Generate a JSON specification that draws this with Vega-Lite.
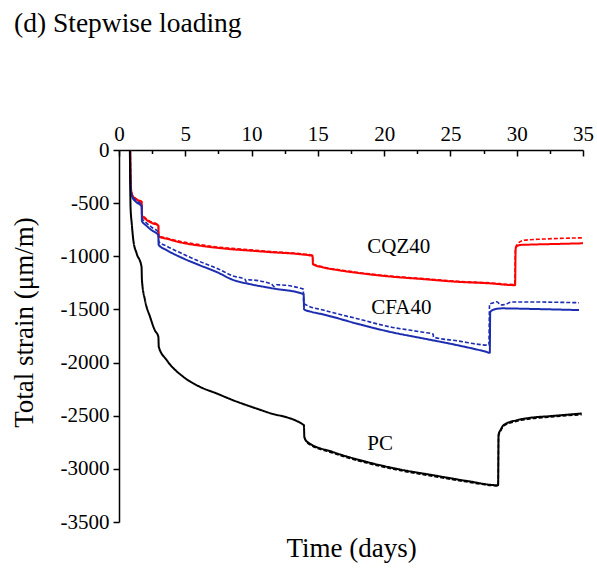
{
  "$schema": "https://vega.github.io/schema/vega-lite/v6.json",
  "autosize": "none",
  "width": 464,
  "height": 372,
  "padding": {"left": 119, "top": 150, "right": 14, "bottom": 48},
  "background": "white",
  "config": {
    "view": {"stroke": null},
    "font": "Liberation Serif",
    "axis": {"grid": false, "domainColor": "black", "tickColor": "black", "labelColor": "black", "titleColor": "black", "labelFont": "Liberation Serif", "titleFont": "Liberation Serif", "labelFontSize": 21, "titleFontSize": 27, "titleFontWeight": "normal", "domainWidth": 1.5, "tickWidth": 1.5}
  },
  "title": {"text": "(d) Stepwise loading", "anchor": "start", "frame": "group", "dx": -105, "fontSize": 27.5, "font": "Liberation Serif", "fontWeight": "normal", "color": "black", "offset": 83},
  "datasets": {
    "curves": [
      {"t": 0.85, "strain": 0, "mix": "CQZ40", "kind": "solid"},
      {"t": 0.88, "strain": -250, "mix": "CQZ40", "kind": "solid"},
      {"t": 0.92, "strain": -380, "mix": "CQZ40", "kind": "solid"},
      {"t": 1.0, "strain": -425, "mix": "CQZ40", "kind": "solid"},
      {"t": 1.2, "strain": -455, "mix": "CQZ40", "kind": "solid"},
      {"t": 1.5, "strain": -477, "mix": "CQZ40", "kind": "solid"},
      {"t": 1.71, "strain": -490, "mix": "CQZ40", "kind": "solid"},
      {"t": 1.73, "strain": -612, "mix": "CQZ40", "kind": "solid"},
      {"t": 2.0, "strain": -650, "mix": "CQZ40", "kind": "solid"},
      {"t": 2.5, "strain": -688, "mix": "CQZ40", "kind": "solid"},
      {"t": 2.97, "strain": -710, "mix": "CQZ40", "kind": "solid"},
      {"t": 2.99, "strain": -814, "mix": "CQZ40", "kind": "solid"},
      {"t": 3.6, "strain": -835, "mix": "CQZ40", "kind": "solid"},
      {"t": 4.85, "strain": -875, "mix": "CQZ40", "kind": "solid"},
      {"t": 6.1, "strain": -900, "mix": "CQZ40", "kind": "solid"},
      {"t": 7.37, "strain": -920, "mix": "CQZ40", "kind": "solid"},
      {"t": 8.5, "strain": -934, "mix": "CQZ40", "kind": "solid"},
      {"t": 9.9, "strain": -947, "mix": "CQZ40", "kind": "solid"},
      {"t": 11.5, "strain": -962, "mix": "CQZ40", "kind": "solid"},
      {"t": 13.6, "strain": -980, "mix": "CQZ40", "kind": "solid"},
      {"t": 14.6, "strain": -998, "mix": "CQZ40", "kind": "solid"},
      {"t": 14.63, "strain": -1075, "mix": "CQZ40", "kind": "solid"},
      {"t": 15.4, "strain": -1105, "mix": "CQZ40", "kind": "solid"},
      {"t": 16.5, "strain": -1130, "mix": "CQZ40", "kind": "solid"},
      {"t": 17.9, "strain": -1155, "mix": "CQZ40", "kind": "solid"},
      {"t": 20.4, "strain": -1190, "mix": "CQZ40", "kind": "solid"},
      {"t": 22.95, "strain": -1215, "mix": "CQZ40", "kind": "solid"},
      {"t": 25.5, "strain": -1240, "mix": "CQZ40", "kind": "solid"},
      {"t": 28.0, "strain": -1255, "mix": "CQZ40", "kind": "solid"},
      {"t": 29.88, "strain": -1272, "mix": "CQZ40", "kind": "solid"},
      {"t": 29.92, "strain": -930, "mix": "CQZ40", "kind": "solid"},
      {"t": 30.0, "strain": -905, "mix": "CQZ40", "kind": "solid"},
      {"t": 30.3, "strain": -893, "mix": "CQZ40", "kind": "solid"},
      {"t": 31.0, "strain": -890, "mix": "CQZ40", "kind": "solid"},
      {"t": 33.0, "strain": -884, "mix": "CQZ40", "kind": "solid"},
      {"t": 35.0, "strain": -878, "mix": "CQZ40", "kind": "solid"},

      {"t": 0.85, "strain": 0, "mix": "CQZ40", "kind": "dashed"},
      {"t": 0.88, "strain": -250, "mix": "CQZ40", "kind": "dashed"},
      {"t": 0.92, "strain": -375, "mix": "CQZ40", "kind": "dashed"},
      {"t": 1.0, "strain": -418, "mix": "CQZ40", "kind": "dashed"},
      {"t": 1.2, "strain": -450, "mix": "CQZ40", "kind": "dashed"},
      {"t": 1.5, "strain": -472, "mix": "CQZ40", "kind": "dashed"},
      {"t": 1.71, "strain": -485, "mix": "CQZ40", "kind": "dashed"},
      {"t": 1.73, "strain": -605, "mix": "CQZ40", "kind": "dashed"},
      {"t": 2.0, "strain": -640, "mix": "CQZ40", "kind": "dashed"},
      {"t": 2.5, "strain": -680, "mix": "CQZ40", "kind": "dashed"},
      {"t": 2.97, "strain": -703, "mix": "CQZ40", "kind": "dashed"},
      {"t": 2.99, "strain": -805, "mix": "CQZ40", "kind": "dashed"},
      {"t": 3.6, "strain": -828, "mix": "CQZ40", "kind": "dashed"},
      {"t": 4.85, "strain": -866, "mix": "CQZ40", "kind": "dashed"},
      {"t": 6.1, "strain": -890, "mix": "CQZ40", "kind": "dashed"},
      {"t": 7.37, "strain": -912, "mix": "CQZ40", "kind": "dashed"},
      {"t": 8.5, "strain": -925, "mix": "CQZ40", "kind": "dashed"},
      {"t": 9.9, "strain": -940, "mix": "CQZ40", "kind": "dashed"},
      {"t": 11.5, "strain": -956, "mix": "CQZ40", "kind": "dashed"},
      {"t": 13.6, "strain": -975, "mix": "CQZ40", "kind": "dashed"},
      {"t": 14.6, "strain": -990, "mix": "CQZ40", "kind": "dashed"},
      {"t": 14.63, "strain": -1068, "mix": "CQZ40", "kind": "dashed"},
      {"t": 15.4, "strain": -1100, "mix": "CQZ40", "kind": "dashed"},
      {"t": 16.5, "strain": -1125, "mix": "CQZ40", "kind": "dashed"},
      {"t": 17.9, "strain": -1150, "mix": "CQZ40", "kind": "dashed"},
      {"t": 20.4, "strain": -1185, "mix": "CQZ40", "kind": "dashed"},
      {"t": 22.95, "strain": -1210, "mix": "CQZ40", "kind": "dashed"},
      {"t": 25.5, "strain": -1235, "mix": "CQZ40", "kind": "dashed"},
      {"t": 28.0, "strain": -1250, "mix": "CQZ40", "kind": "dashed"},
      {"t": 29.86, "strain": -1266, "mix": "CQZ40", "kind": "dashed"},
      {"t": 29.9, "strain": -925, "mix": "CQZ40", "kind": "dashed"},
      {"t": 30.1, "strain": -880, "mix": "CQZ40", "kind": "dashed"},
      {"t": 30.5, "strain": -850, "mix": "CQZ40", "kind": "dashed"},
      {"t": 32.0, "strain": -838, "mix": "CQZ40", "kind": "dashed"},
      {"t": 35.0, "strain": -826, "mix": "CQZ40", "kind": "dashed"},

      {"t": 0.84, "strain": 0, "mix": "CFA40", "kind": "solid"},
      {"t": 0.86, "strain": -250, "mix": "CFA40", "kind": "solid"},
      {"t": 0.9, "strain": -395, "mix": "CFA40", "kind": "solid"},
      {"t": 1.0, "strain": -440, "mix": "CFA40", "kind": "solid"},
      {"t": 1.3, "strain": -490, "mix": "CFA40", "kind": "solid"},
      {"t": 1.71, "strain": -530, "mix": "CFA40", "kind": "solid"},
      {"t": 1.73, "strain": -668, "mix": "CFA40", "kind": "solid"},
      {"t": 2.0, "strain": -705, "mix": "CFA40", "kind": "solid"},
      {"t": 2.5, "strain": -758, "mix": "CFA40", "kind": "solid"},
      {"t": 2.97, "strain": -800, "mix": "CFA40", "kind": "solid"},
      {"t": 2.99, "strain": -892, "mix": "CFA40", "kind": "solid"},
      {"t": 3.6, "strain": -942, "mix": "CFA40", "kind": "solid"},
      {"t": 4.85, "strain": -1020, "mix": "CFA40", "kind": "solid"},
      {"t": 6.1, "strain": -1085, "mix": "CFA40", "kind": "solid"},
      {"t": 7.37, "strain": -1148, "mix": "CFA40", "kind": "solid"},
      {"t": 8.6, "strain": -1222, "mix": "CFA40", "kind": "solid"},
      {"t": 10.0, "strain": -1265, "mix": "CFA40", "kind": "solid"},
      {"t": 11.5, "strain": -1300, "mix": "CFA40", "kind": "solid"},
      {"t": 13.93, "strain": -1356, "mix": "CFA40", "kind": "solid"},
      {"t": 13.96, "strain": -1500, "mix": "CFA40", "kind": "solid"},
      {"t": 14.5, "strain": -1522, "mix": "CFA40", "kind": "solid"},
      {"t": 15.4, "strain": -1547, "mix": "CFA40", "kind": "solid"},
      {"t": 17.9, "strain": -1632, "mix": "CFA40", "kind": "solid"},
      {"t": 20.4, "strain": -1710, "mix": "CFA40", "kind": "solid"},
      {"t": 22.95, "strain": -1773, "mix": "CFA40", "kind": "solid"},
      {"t": 25.5, "strain": -1836, "mix": "CFA40", "kind": "solid"},
      {"t": 27.7, "strain": -1899, "mix": "CFA40", "kind": "solid"},
      {"t": 27.97, "strain": -1908, "mix": "CFA40", "kind": "solid"},
      {"t": 28.0, "strain": -1525, "mix": "CFA40", "kind": "solid"},
      {"t": 28.3, "strain": -1500, "mix": "CFA40", "kind": "solid"},
      {"t": 28.9, "strain": -1490, "mix": "CFA40", "kind": "solid"},
      {"t": 31.0, "strain": -1495, "mix": "CFA40", "kind": "solid"},
      {"t": 34.7, "strain": -1506, "mix": "CFA40", "kind": "solid"},

      {"t": 0.84, "strain": 0, "mix": "CFA40", "kind": "dashed"},
      {"t": 0.86, "strain": -250, "mix": "CFA40", "kind": "dashed"},
      {"t": 0.9, "strain": -385, "mix": "CFA40", "kind": "dashed"},
      {"t": 1.0, "strain": -428, "mix": "CFA40", "kind": "dashed"},
      {"t": 1.3, "strain": -478, "mix": "CFA40", "kind": "dashed"},
      {"t": 1.71, "strain": -512, "mix": "CFA40", "kind": "dashed"},
      {"t": 1.73, "strain": -640, "mix": "CFA40", "kind": "dashed"},
      {"t": 2.0, "strain": -678, "mix": "CFA40", "kind": "dashed"},
      {"t": 2.5, "strain": -730, "mix": "CFA40", "kind": "dashed"},
      {"t": 2.97, "strain": -772, "mix": "CFA40", "kind": "dashed"},
      {"t": 2.99, "strain": -862, "mix": "CFA40", "kind": "dashed"},
      {"t": 3.6, "strain": -905, "mix": "CFA40", "kind": "dashed"},
      {"t": 4.85, "strain": -980, "mix": "CFA40", "kind": "dashed"},
      {"t": 6.1, "strain": -1050, "mix": "CFA40", "kind": "dashed"},
      {"t": 7.37, "strain": -1112, "mix": "CFA40", "kind": "dashed"},
      {"t": 8.6, "strain": -1185, "mix": "CFA40", "kind": "dashed"},
      {"t": 9.5, "strain": -1215, "mix": "CFA40", "kind": "dashed"},
      {"t": 9.6, "strain": -1240, "mix": "CFA40", "kind": "dashed"},
      {"t": 9.8, "strain": -1222, "mix": "CFA40", "kind": "dashed"},
      {"t": 11.5, "strain": -1262, "mix": "CFA40", "kind": "dashed"},
      {"t": 11.7, "strain": -1285, "mix": "CFA40", "kind": "dashed"},
      {"t": 11.9, "strain": -1268, "mix": "CFA40", "kind": "dashed"},
      {"t": 13.9, "strain": -1309, "mix": "CFA40", "kind": "dashed"},
      {"t": 13.93, "strain": -1440, "mix": "CFA40", "kind": "dashed"},
      {"t": 14.15, "strain": -1459, "mix": "CFA40", "kind": "dashed"},
      {"t": 15.4, "strain": -1506, "mix": "CFA40", "kind": "dashed"},
      {"t": 17.9, "strain": -1585, "mix": "CFA40", "kind": "dashed"},
      {"t": 20.4, "strain": -1663, "mix": "CFA40", "kind": "dashed"},
      {"t": 22.95, "strain": -1715, "mix": "CFA40", "kind": "dashed"},
      {"t": 23.7, "strain": -1732, "mix": "CFA40", "kind": "dashed"},
      {"t": 23.72, "strain": -1760, "mix": "CFA40", "kind": "dashed"},
      {"t": 25.5, "strain": -1795, "mix": "CFA40", "kind": "dashed"},
      {"t": 27.9, "strain": -1836, "mix": "CFA40", "kind": "dashed"},
      {"t": 27.95, "strain": -1450, "mix": "CFA40", "kind": "dashed"},
      {"t": 28.2, "strain": -1440, "mix": "CFA40", "kind": "dashed"},
      {"t": 28.5, "strain": -1428, "mix": "CFA40", "kind": "dashed"},
      {"t": 28.8, "strain": -1458, "mix": "CFA40", "kind": "dashed"},
      {"t": 29.2, "strain": -1450, "mix": "CFA40", "kind": "dashed"},
      {"t": 29.6, "strain": -1430, "mix": "CFA40", "kind": "dashed"},
      {"t": 31.0, "strain": -1430, "mix": "CFA40", "kind": "dashed"},
      {"t": 34.7, "strain": -1437, "mix": "CFA40", "kind": "dashed"},

      {"t": 0.82, "strain": 0, "mix": "PC", "kind": "solid"},
      {"t": 0.84, "strain": -250, "mix": "PC", "kind": "solid"},
      {"t": 0.87, "strain": -534, "mix": "PC", "kind": "solid"},
      {"t": 0.96, "strain": -690, "mix": "PC", "kind": "solid"},
      {"t": 1.08, "strain": -847, "mix": "PC", "kind": "solid"},
      {"t": 1.33, "strain": -973, "mix": "PC", "kind": "solid"},
      {"t": 1.7, "strain": -1098, "mix": "PC", "kind": "solid"},
      {"t": 1.73, "strain": -1224, "mix": "PC", "kind": "solid"},
      {"t": 1.96, "strain": -1412, "mix": "PC", "kind": "solid"},
      {"t": 2.34, "strain": -1569, "mix": "PC", "kind": "solid"},
      {"t": 2.7, "strain": -1695, "mix": "PC", "kind": "solid"},
      {"t": 2.97, "strain": -1758, "mix": "PC", "kind": "solid"},
      {"t": 3.0, "strain": -1852, "mix": "PC", "kind": "solid"},
      {"t": 3.6, "strain": -1977, "mix": "PC", "kind": "solid"},
      {"t": 4.85, "strain": -2134, "mix": "PC", "kind": "solid"},
      {"t": 6.1, "strain": -2228, "mix": "PC", "kind": "solid"},
      {"t": 7.37, "strain": -2291, "mix": "PC", "kind": "solid"},
      {"t": 8.6, "strain": -2354, "mix": "PC", "kind": "solid"},
      {"t": 11.1, "strain": -2464, "mix": "PC", "kind": "solid"},
      {"t": 13.95, "strain": -2589, "mix": "PC", "kind": "solid"},
      {"t": 13.98, "strain": -2700, "mix": "PC", "kind": "solid"},
      {"t": 14.2, "strain": -2746, "mix": "PC", "kind": "solid"},
      {"t": 16.1, "strain": -2840, "mix": "PC", "kind": "solid"},
      {"t": 18.7, "strain": -2935, "mix": "PC", "kind": "solid"},
      {"t": 21.2, "strain": -3006, "mix": "PC", "kind": "solid"},
      {"t": 23.7, "strain": -3060, "mix": "PC", "kind": "solid"},
      {"t": 26.2, "strain": -3113, "mix": "PC", "kind": "solid"},
      {"t": 28.6, "strain": -3154, "mix": "PC", "kind": "solid"},
      {"t": 28.63, "strain": -2680, "mix": "PC", "kind": "solid"},
      {"t": 28.8, "strain": -2630, "mix": "PC", "kind": "solid"},
      {"t": 29.0, "strain": -2589, "mix": "PC", "kind": "solid"},
      {"t": 30.0, "strain": -2542, "mix": "PC", "kind": "solid"},
      {"t": 31.0, "strain": -2520, "mix": "PC", "kind": "solid"},
      {"t": 32.5, "strain": -2504, "mix": "PC", "kind": "solid"},
      {"t": 34.9, "strain": -2479, "mix": "PC", "kind": "solid"},

      {"t": 13.98, "strain": -2705, "mix": "PC", "kind": "dashed"},
      {"t": 14.2, "strain": -2755, "mix": "PC", "kind": "dashed"},
      {"t": 16.1, "strain": -2850, "mix": "PC", "kind": "dashed"},
      {"t": 18.7, "strain": -2945, "mix": "PC", "kind": "dashed"},
      {"t": 21.2, "strain": -3016, "mix": "PC", "kind": "dashed"},
      {"t": 23.7, "strain": -3070, "mix": "PC", "kind": "dashed"},
      {"t": 26.2, "strain": -3122, "mix": "PC", "kind": "dashed"},
      {"t": 28.6, "strain": -3160, "mix": "PC", "kind": "dashed"},
      {"t": 28.63, "strain": -2690, "mix": "PC", "kind": "dashed"},
      {"t": 28.8, "strain": -2640, "mix": "PC", "kind": "dashed"},
      {"t": 29.0, "strain": -2598, "mix": "PC", "kind": "dashed"},
      {"t": 30.0, "strain": -2552, "mix": "PC", "kind": "dashed"},
      {"t": 31.0, "strain": -2530, "mix": "PC", "kind": "dashed"},
      {"t": 32.5, "strain": -2512, "mix": "PC", "kind": "dashed"},
      {"t": 34.9, "strain": -2490, "mix": "PC", "kind": "dashed"}
    ],
    "labels": [
      {"t": 21.1, "strain": -913, "name": "CQZ40"},
      {"t": 21.3, "strain": -1483, "name": "CFA40"},
      {"t": 19.7, "strain": -2768, "name": "PC"}
    ]
  },
  "layer": [
    {
      "data": {"name": "curves"},
      "mark": {"type": "line", "interpolate": "monotone"},
      "encoding": {
        "x": {"field": "t", "type": "quantitative", "scale": {"domain": [0, 35], "nice": false, "zero": false},
          "axis": {"orient": "top", "title": null, "values": [0, 2.5, 5, 7.5, 10, 12.5, 15, 17.5, 20, 22.5, 25, 27.5, 30, 32.5, 35],
            "labelExpr": "datum.value % 5 === 0 ? '' + datum.value : ''",
            "tickSize": {"condition": {"test": "datum.value % 5 === 0", "value": -6}, "value": -3.5},
            "labelPadding": 12, "labelFlush": false, "labelOverlap": false}},
        "y": {"field": "strain", "type": "quantitative", "scale": {"domain": [-3500, 0], "nice": false},
          "axis": {"title": "Total strain (μm/m)", "values": [0, -250, -500, -750, -1000, -1250, -1500, -1750, -2000, -2250, -2500, -2750, -3000, -3250, -3500],
            "labelExpr": "datum.value % 500 === 0 ? '' + datum.value : ''",
            "tickSize": {"condition": {"test": "datum.value % 500 === 0", "value": 6}, "value": 4},
            "labelPadding": 4, "labelFlush": false, "labelOverlap": false, "titlePadding": 22, "titleY": 172}},
        "color": {"field": "mix", "type": "nominal", "scale": {"domain": ["CQZ40", "CFA40", "PC"], "range": ["#ff0000", "#1c2db0", "#000000"]}, "legend": null},
        "strokeDash": {"field": "kind", "type": "nominal", "scale": {"domain": ["solid", "dashed"], "range": [[1, 0], [4, 2]]}, "legend": null},
        "strokeWidth": {"field": "kind", "type": "nominal", "scale": {"domain": ["solid", "dashed"], "range": [2, 1.6]}, "legend": null},
        "detail": {"field": "kind"}
      }
    },
    {
      "data": {"name": "labels"},
      "mark": {"type": "text", "font": "Liberation Serif", "fontSize": 21, "color": "black", "align": "center", "baseline": "middle"},
      "encoding": {
        "x": {"field": "t", "type": "quantitative", "scale": {"domain": [0, 35], "nice": false, "zero": false},
          "axis": {"orient": "bottom", "title": "Time (days)", "domain": false, "ticks": false, "labels": false, "titlePadding": 13}},
        "y": {"field": "strain", "type": "quantitative"},
        "text": {"field": "name"}
      }
    }
  ],
  "resolve": {"axis": {"x": "independent"}}
}
